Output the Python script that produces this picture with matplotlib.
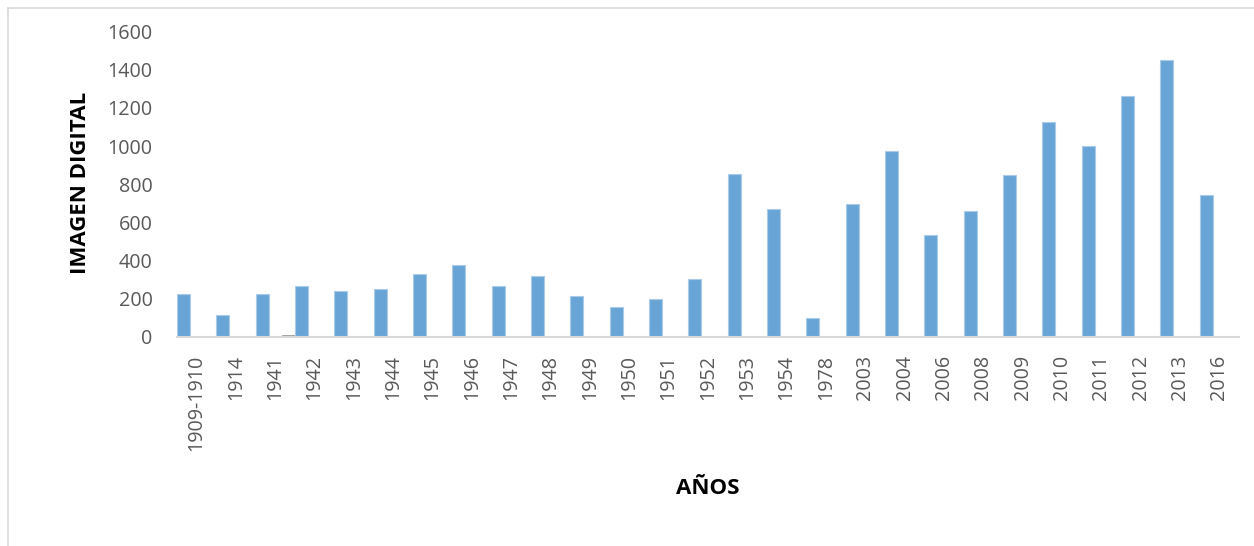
import matplotlib
matplotlib.use("Agg")
import matplotlib.pyplot as plt
import numpy as np
from matplotlib.lines import Line2D

categories = ["1909-1910", "1914", "1941", "1942", "1943", "1944", "1945", "1946",
              "1947", "1948", "1949", "1950", "1951", "1952", "1953", "1954", "1978",
              "2003", "2004", "2006", "2008", "2009", "2010", "2011", "2012", "2013", "2016"]
imagen_digital = [225, 114, 225, 268, 241, 249, 327, 376, 268, 317, 215, 154, 199, 301,
                  852, 672, 96, 698, 973, 532, 659, 847, 1126, 999, 1262, 1451, 743]
# second (gray) series, only a tiny value in the 1941 category
serie_gris = [0, 0, 10, 0, 0, 0, 0, 0, 0, 0, 0, 0, 0, 0,
              0, 0, 0, 0, 0, 0, 0, 0, 0, 0, 0, 0, 0]
y_ticks = [0, 200, 400, 600, 800, 1000, 1200, 1400, 1600]

W, H = 1254, 546
fig = plt.figure(figsize=(W / 100, H / 100), dpi=100)
ax = fig.add_axes([177 / W, 1 - 336.7 / H, (1239 - 177) / W, (336.7 - 31.7) / H])

x = np.arange(len(categories))
bw = 1 / 3
ax.bar(x - bw, imagen_digital, width=bw * 0.98, color="#68a5d6",
       edgecolor="#a9cbe9", linewidth=0.8, zorder=2)
ax.bar(x + bw, serie_gris, width=bw * 0.98, color="#a5a5a5", linewidth=0, zorder=2)

ax.set_xlim(-0.5, len(categories) - 0.5)
ax.set_ylim(0, 1600)
ax.set_yticks(y_ticks)
ax.set_xticks(x)
ax.set_xticklabels(categories, rotation=90)

for s in ["top", "right", "left"]:
    ax.spines[s].set_visible(False)
ax.spines["bottom"].set_color("#d9d9d9")
ax.spines["bottom"].set_linewidth(1.5)
ax.spines["bottom"].set_zorder(3)

tick_family = ["Open Sans", "DejaVu Sans"]
for lbl in ax.get_yticklabels() + ax.get_xticklabels():
    lbl.set_fontfamily(tick_family)
    lbl.set_fontsize(14.2)
    lbl.set_color("#595959")
ax.tick_params(axis="both", length=0)
ax.tick_params(axis="y", pad=17.5)
ax.tick_params(axis="x", pad=13)

ax.set_ylabel("IMAGEN DIGITAL", fontsize=16, fontweight="bold",
              family=["Open Sans", "DejaVu Sans"], color="black")
ax.yaxis.set_label_coords((81 - 177) / (1239 - 177), (336.7 - 183) / 305)
ax.set_xlabel("AÑOS", fontsize=16, fontweight="bold",
              family=["Open Sans", "DejaVu Sans"], color="black")
ax.xaxis.set_label_coords((708 - 177) / (1239 - 177), -(489 - 336.7) / 305)
ax.xaxis.label.set_va("center")
ax.yaxis.label.set_va("center")

# outer chart-area border (left and top visible)
fig.add_artist(Line2D([7.5 / W, 7.5 / W], [0, 1 - 7.5 / H], color="#d9d9d9", lw=1.2))
fig.add_artist(Line2D([7.5 / W, 1], [1 - 7.5 / H, 1 - 7.5 / H], color="#d9d9d9", lw=1.2))

fig.savefig("out.png", dpi=100)
